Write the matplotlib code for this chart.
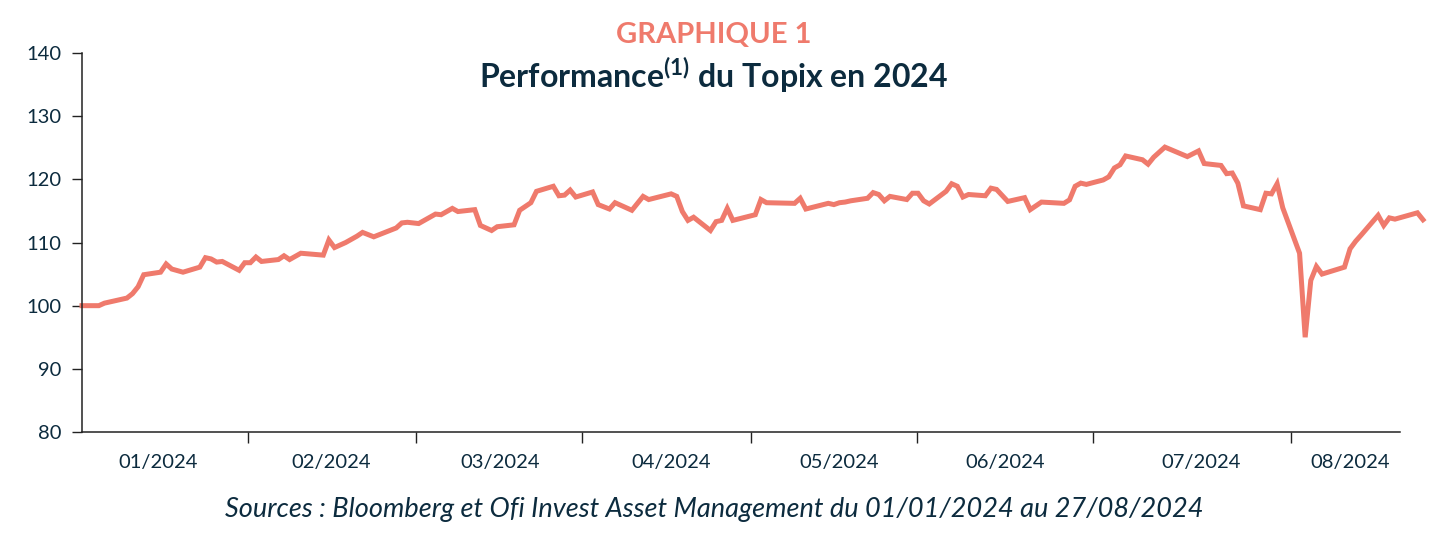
import matplotlib
matplotlib.use("Agg")
import matplotlib.pyplot as plt
from matplotlib.ticker import FixedLocator, NullFormatter

# ── Data: TOPIX performance (base 100 on 01/01/2024), x = days since 01/01/2024
days = [0, 3, 4, 8, 9, 10, 11, 14, 15, 16, 18, 21, 22, 23, 24, 25, 28, 29, 30, 31,
        32, 35, 36, 37, 39, 43, 44, 45, 47, 49, 50, 52, 56, 57, 58, 60, 63, 64, 66, 67,
        70, 71, 73, 74, 77, 78, 80, 81, 84, 85, 86, 87, 88, 91, 92, 94, 95, 98, 100, 101,
        105, 106, 107, 108, 109, 112, 113, 114, 115, 116, 120, 121, 122, 127, 128, 129, 133, 134, 135, 136,
        137, 140, 141, 142, 143, 144, 147, 148, 149, 150, 151, 154, 155, 156, 157, 158, 161, 162, 163, 165,
        168, 169, 171, 175, 176, 177, 178, 179, 182, 183, 184, 185, 186, 189, 190, 191, 193, 197, 199, 200,
        203, 204, 205, 206, 207, 210, 211, 212, 213, 214, 217, 218, 219, 220, 221, 225, 226, 227, 228, 231,
        232, 233, 234, 236, 238, 239]
topix = [100.0, 100.0, 100.4, 101.2, 101.9, 103.0, 104.9, 105.3, 106.6, 105.8, 105.3, 106.1, 107.6, 107.4, 106.9, 107.0, 105.6, 106.8, 106.8, 107.7,
         107.0, 107.3, 107.9, 107.3, 108.3, 108.0, 110.4, 109.2, 110.0, 111.0, 111.6, 110.9, 112.3, 113.1, 113.2, 113.0, 114.5, 114.4, 115.4, 114.9,
         115.2, 112.7, 111.9, 112.5, 112.8, 115.1, 116.3, 118.1, 118.9, 117.4, 117.5, 118.3, 117.2, 118.0, 116.0, 115.3, 116.3, 115.1, 117.3, 116.8,
         117.7, 117.3, 114.9, 113.5, 114.0, 111.9, 113.3, 113.5, 115.4, 113.5, 114.4, 116.8, 116.3, 116.2, 117.0, 115.3, 116.2, 116.0, 116.3, 116.4,
         116.6, 117.0, 117.9, 117.6, 116.6, 117.3, 116.8, 117.8, 117.8, 116.6, 116.1, 118.1, 119.3, 118.9, 117.2, 117.6, 117.4, 118.6, 118.4, 116.5,
         117.1, 115.2, 116.4, 116.2, 116.75, 118.9, 119.4, 119.2, 119.9, 120.4, 121.8, 122.3, 123.7, 123.1, 122.4, 123.5, 125.1, 123.6, 124.5, 122.5,
         122.2, 120.9, 121.0, 119.4, 115.8, 115.2, 117.8, 117.7, 119.3, 115.5, 108.3, 95.0, 104.0, 106.2, 105.0, 106.1, 109.0, 110.2, 111.2, 114.3,
         112.7, 113.9, 113.7, 114.2, 114.7, 113.6]

# month separators and month label positions (days since 01/01/2024)
month_ticks = [29.6, 59.5, 89.1, 119.3, 148.8, 180.2, 215.5]
label_pos = [13.5, 44.5, 74.5, 105, 135, 164.5, 199.5, 226]
month_labels = ["01/2024", "02/2024", "03/2024", "04/2024",
                "05/2024", "06/2024", "07/2024", "08/2024"]
y_ticks = [80, 90, 100, 110, 120, 130, 140]

CORAL = "#ef7a6c"
NAVY = "#0c2b3e"

plt.rcParams["font.family"] = ["Lato", "DejaVu Sans"]
plt.rcParams["mathtext.fontset"] = "custom"
plt.rcParams["mathtext.bf"] = "Lato:bold"
plt.rcParams["mathtext.rm"] = "Lato"

fig = plt.figure(figsize=(14.52, 5.38), dpi=100)
ax = fig.add_axes([82 / 1452, 1 - 432 / 538, (1400 - 82) / 1452, (432 - 53) / 538])

ax.plot(days, topix, color=CORAL, linewidth=3.6, solid_joinstyle="miter",
        clip_on=False)

ax.set_xlim(0, 234.9)
ax.set_ylim(80, 140)
ax.set_yticks(y_ticks)
ax.set_yticklabels([str(v) for v in y_ticks], fontsize=14.5, color=NAVY)

ax.xaxis.set_major_locator(FixedLocator(month_ticks))
ax.xaxis.set_major_formatter(NullFormatter())
ax.xaxis.set_minor_locator(FixedLocator(label_pos))
ax.set_xticklabels(month_labels, minor=True, fontsize=14.5, color=NAVY)

ax.tick_params(axis="x", which="major", length=8, width=1, color="#222222")
ax.tick_params(axis="x", which="minor", length=0, pad=16)
ax.tick_params(axis="y", length=7, width=1, color="#222222", pad=8)

for side in ["top", "right"]:
    ax.spines[side].set_visible(False)
for side in ["left", "bottom"]:
    ax.spines[side].set_color("#222222")
    ax.spines[side].set_linewidth(1.1)

fig.text(0.4917, 1 - 35 / 538, "GRAPHIQUE 1", ha="center", va="center",
         fontsize=21, fontweight="bold", color=CORAL)
fig.text(0.4917, 1 - 75 / 538, r"Performance$^{\mathbf{(1)}}$ du Topix en 2024",
         ha="center", va="center", fontsize=23, fontweight="bold", color=NAVY)
fig.text(0.4917, 1 - 510 / 538,
         "Sources : Bloomberg et Ofi Invest Asset Management du 01/01/2024 au 27/08/2024",
         ha="center", va="center", fontsize=19.5, style="italic", color=NAVY)

fig.savefig("out.png", dpi=100)
